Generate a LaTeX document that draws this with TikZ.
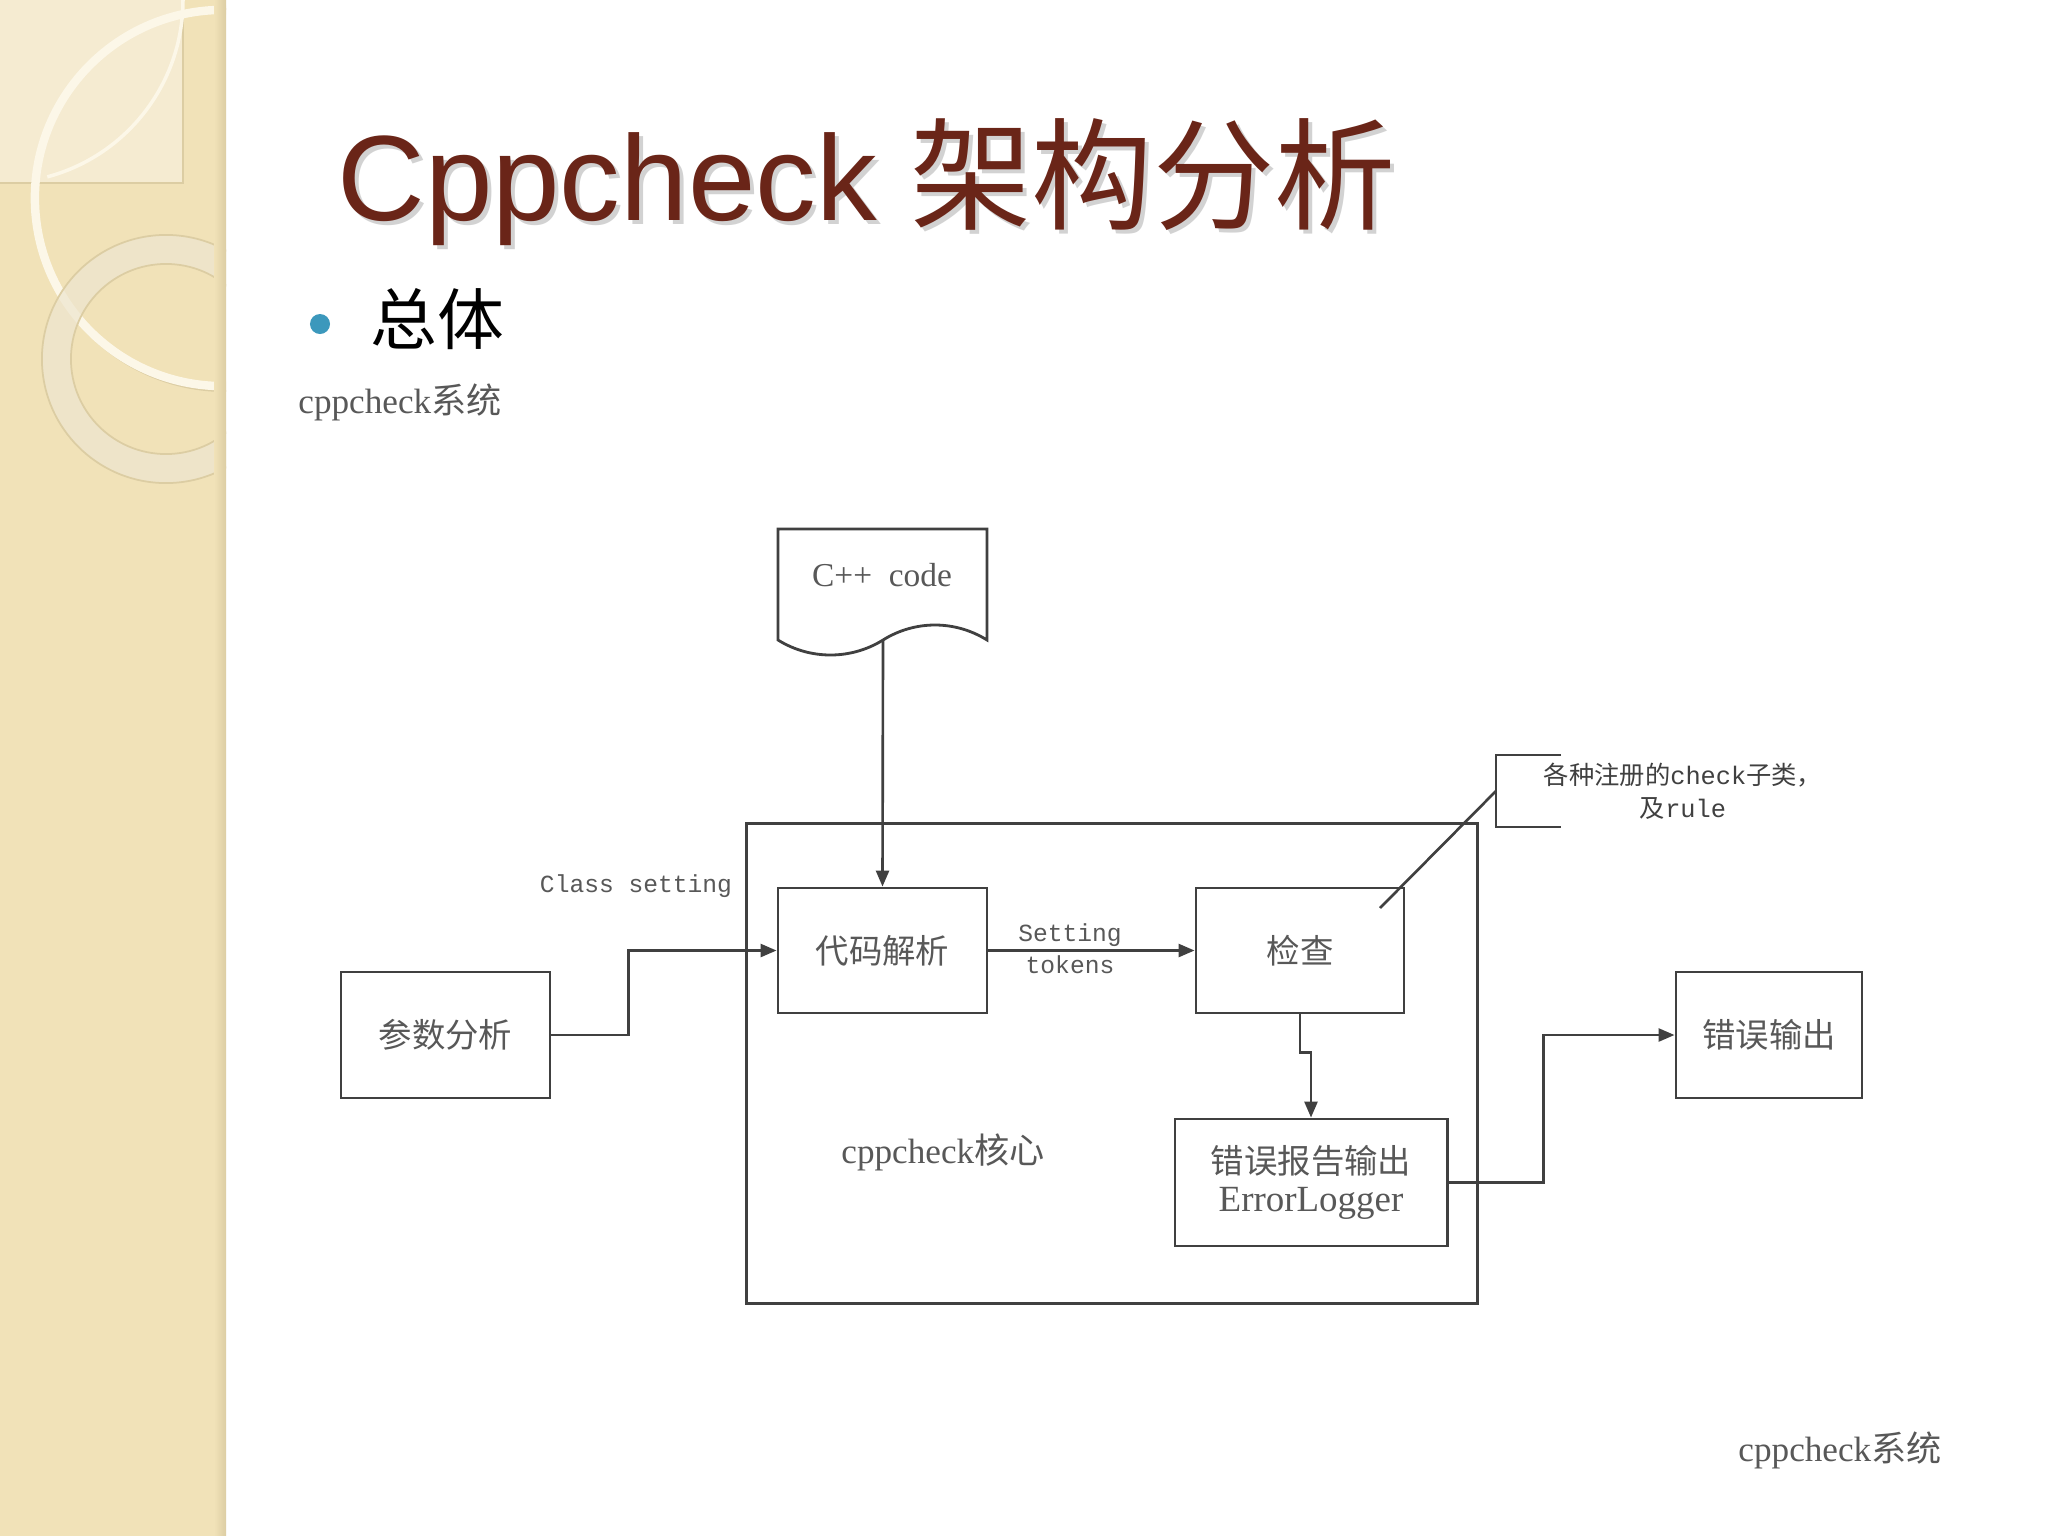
\documentclass[tikz,border=0pt]{standalone}
\usepackage{fontspec}
\setmainfont{Liberation Serif}
\setmonofont{Liberation Mono}
\newfontfamily\cn{Noto Sans CJK SC}
\newfontfamily\heading{Liberation Sans}
\usetikzlibrary{arrows.meta}

\definecolor{panelbg}{HTML}{F1E2B8}
\definecolor{panellt}{HTML}{F5EBD1}
\definecolor{paneledge}{HTML}{DCCDA3}
\definecolor{ringcol}{HTML}{EEE6CF}
\definecolor{arccol}{HTML}{FCF7E8}
\definecolor{titlered}{HTML}{6A2518}
\definecolor{dotblue}{HTML}{3C98BC}
\definecolor{inkline}{HTML}{404040}
\definecolor{inktext}{HTML}{585858}

\tikzset{
  blk/.style={draw=inkline, line width=0.8pt, inner sep=0pt, text=inktext,
    font=\cn\fontsize{9.5}{11}\selectfont, align=center},
  link/.style={draw=inkline, line width=0.75pt, -{Triangle[length=1.6mm,width=1.3mm]}},
  lbl/.style={text=inktext, font=\ttfamily\fontsize{7}{9}\selectfont, align=center},
  note/.style={text=inktext, font=\fontsize{10}{12}\selectfont}
}

\begin{document}
\begin{tikzpicture}[x=0.01cm,y=-0.01cm]
\useasboundingbox (0,0) rectangle (2048,1536);
\fill[white] (0,0) rectangle (2048,1536);

% left panel
\begin{scope}
  \clip (0,0) rectangle (226,1536);
  \fill[panelbg] (0,0) rectangle (226,1536);
  \fill[panellt] (0,0) rectangle (183,183);
  \draw[paneledge, line width=0.5pt] (0,183) -- (183,183) -- (183,0);
  \draw[arccol, line width=1pt] (183,0) arc[start angle=0, end angle=-75, radius=1.83cm];
  \draw[paneledge, line width=0.5pt] (225,200) circle[radius=1.91cm];
  \draw[arccol, line width=2.4pt] (223,198) circle[radius=1.88cm];
  \fill[ringcol, opacity=0.75, even odd rule] (166,359) circle[radius=1.24cm] (166,359) circle[radius=0.95cm];
  \draw[paneledge, line width=0.5pt] (166,359) circle[radius=1.24cm] (166,359) circle[radius=0.95cm];
  \shade[left color=panelbg, right color=paneledge] (214,0) rectangle (226,1536);
\end{scope}

% title
\node[anchor=base west, text=black!35, opacity=0.5, font=\heading\fontsize{34.5}{42}\selectfont] at (329,224) {Cppcheck {\cn 架构分析}};
\node[anchor=base west, text=titlered, font=\heading\fontsize{34.5}{42}\selectfont] (title) at (325,220) {Cppcheck {\cn 架构分析}};
\fill[dotblue] (320,324) circle[radius=0.1cm];
\node[anchor=west, font=\cn\fontsize{19}{22}\selectfont] (topic) at (358,319) {总体};
\node[note, anchor=west] (captop) at (286,402) {cppcheck{\cn 系统}};
\node[note, anchor=east] (capbot) at (1954,1450) {cppcheck{\cn 系统}};

% source document
\draw[inkline, line width=0.8pt, fill=white] (778,640) -- (778,529) -- (987,529) -- (987,640)
  .. controls (955,620) and (915,620) .. (883,640)
  .. controls (851,660) and (810,660) .. (778,640) -- cycle;
\node[text=inktext, font=\fontsize{9.5}{11}\selectfont] (code) at (882,575) {C++~~code};
\coordinate (codeout) at (883,641);

% core
\node[draw=inkline, line width=0.8pt, minimum width=7.3cm, minimum height=4.79cm] (core) at (1112,1063.5) {};
\node[note] (corelbl) at (943,1152) {cppcheck{\cn 核心}};

\node[blk, minimum width=2.09cm, minimum height=1.26cm] (args) at (445.5,1035) {参数分析};
\node[blk, minimum width=2.09cm, minimum height=1.25cm] (parse) at (882.5,950.5) {代码解析};
\node[blk, minimum width=2.08cm, minimum height=1.25cm] (chk) at (1300,950.5) {检查};
\node[blk, minimum width=2.72cm, minimum height=1.27cm] (err) at (1311,1182.5) {错误报告输出\\{\rmfamily\fontsize{10.5}{11}\selectfont ErrorLogger}};
\node[blk, minimum width=1.86cm, minimum height=1.26cm] (out) at (1769,1035) {错误输出};

\node[lbl] (cls) at (636,886) {Class setting};
\node[lbl] (tok) at (1070,949) {Setting\\tokens};

% note on checks
\node[lbl, text=black!75, font=\cn\fontsize{7.2}{9.5}\selectfont] (rules) at (1683,791) {各种注册的{\ttfamily check}子类，\\及{\ttfamily rule}};
\coordinate (brk) at (1496,791);
\coordinate (chkpt) at (1380,908);
\draw[inkline, line width=0.75pt] (1561,755) -- (1496,755) -- (1496,827) -- (1561,827);
\draw[inkline, line width=0.75pt] (brk) -- (chkpt);

% flow
\draw[link] (codeout) -- (parse.north);
\draw[link] (args.east) -- ++(77,0) |- (parse.west);
\draw[link] (parse.east) -- (chk.west);
\draw[link] (chk.south) -- ++(0,38) -| (err.north);
\draw[link] (err.east) -- ++(95,0) |- (out.west);
\end{tikzpicture}
\end{document}
